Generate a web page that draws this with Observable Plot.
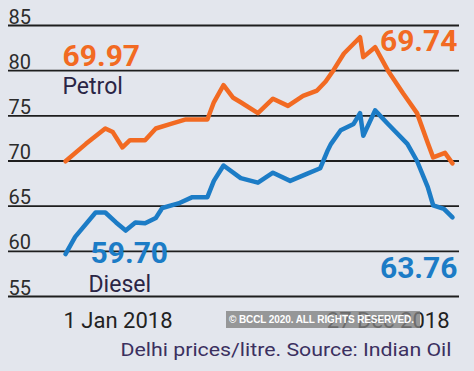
<!DOCTYPE html>
<html><head><meta charset="utf-8">
<script src="https://cdn.jsdelivr.net/npm/d3@7"></script>
<script src="https://cdn.jsdelivr.net/npm/@observablehq/plot@0.6"></script>
<style>
html,body{margin:0;padding:0;background:#e3e6ed;}
#wrap{position:relative;width:474px;height:371px;overflow:hidden;background:#e3e6ed;}
#wrap svg{display:block;}
#wm{position:absolute;left:226px;top:311px;width:194px;height:17px;background:rgba(128,128,128,0.78);color:#fff;font:bold 10px "Liberation Sans",Arial,sans-serif;letter-spacing:-0.1px;line-height:17px;padding-left:3px;box-sizing:border-box;white-space:nowrap;overflow:hidden;}
</style></head>
<body><div id="wrap"></div>
<script>
const petrolDates = ["2018-01-01","2018-01-20","2018-02-07","2018-02-14","2018-02-23","2018-03-02","2018-03-16","2018-03-26","2018-04-09","2018-04-23","2018-05-13","2018-05-19","2018-05-28","2018-06-06","2018-06-13","2018-06-29","2018-07-13","2018-07-27","2018-08-10","2018-08-23","2018-08-31","2018-09-07","2018-09-17","2018-10-02","2018-10-05","2018-10-16","2018-10-28","2018-11-11","2018-11-24","2018-12-04","2018-12-09","2018-12-20","2018-12-27"];
const petrolValues = [69.97,71.9,73.6,73.2,71.5,72.3,72.3,73.6,74.1,74.6,74.6,76.5,78.4,77.0,76.5,75.3,76.9,76.1,77.2,77.8,78.8,80.0,81.9,83.7,81.5,82.6,80.0,77.5,75.3,72.0,70.4,70.9,69.74];
const dieselDates = ["2018-01-01","2018-01-10","2018-01-29","2018-02-07","2018-02-17","2018-02-26","2018-03-07","2018-03-16","2018-03-26","2018-04-01","2018-04-16","2018-04-29","2018-05-13","2018-05-19","2018-05-28","2018-06-13","2018-06-29","2018-07-13","2018-07-29","2018-08-14","2018-08-26","2018-09-02","2018-09-05","2018-09-14","2018-09-26","2018-10-02","2018-10-05","2018-10-16","2018-10-28","2018-11-15","2018-11-24","2018-12-04","2018-12-09","2018-12-19","2018-12-27"];
const dieselValues = [59.70,61.6,64.3,64.3,63.2,62.3,63.2,63.1,63.7,64.8,65.3,66.0,66.0,67.8,69.5,68.1,67.6,68.7,67.8,68.6,69.2,71.2,71.9,73.4,74.1,75.3,72.8,75.6,74.1,71.9,70.0,67.1,65.1,64.7,63.76];
const yTicks = [55,60,65,70,75,80,85];
const seriesNames = ["Petrol","Diesel"];
const xTickLabels = ["1 Jan 2018","27 Dec 2018"];
const captionText = "Delhi prices/litre. Source: Indian Oil";
const watermarkText = "© BCCL 2020. ALL RIGHTS RESERVED.";

const parse = d3.utcParse("%Y-%m-%d");
const petrol = petrolDates.map((d,i)=>({date:parse(d), value:petrolValues[i]}));
const diesel = dieselDates.map((d,i)=>({date:parse(d), value:dieselValues[i]}));
const xStart = petrol[0].date, xEnd = petrol[petrol.length-1].date;
const ORANGE = "#f26a22", BLUE = "#1c7cc6", NAVY = "#2a2545";
const font = "Roboto, 'Noto Sans', sans-serif";

const chart = Plot.plot({
  width: 474, height: 371,
  marginLeft: 65, marginRight: 22, marginTop: 25, marginBottom: 75,
  x: {type: "utc", domain: [xStart, xEnd], axis: null},
  y: {domain: [55, 85], axis: null},
  style: {background: "transparent", fontFamily: font, overflow: "visible"},
  marks: [
    Plot.ruleY(yTicks, {y: d => d, stroke: "#1e1e1e", strokeWidth: 1.8, insetLeft: -57, insetRight: -7}),
    Plot.text(yTicks, {y: d => d, text: d => String(d), frameAnchor: "left", dx: -57, dy: -2, lineAnchor: "bottom", textAnchor: "start", fontSize: 20, fill: "#2c2c2c"}),
    Plot.line(petrol, {x: "date", y: "value", stroke: ORANGE, strokeWidth: 4.5, strokeLinejoin: "round", strokeLinecap: "round"}),
    Plot.line(diesel, {x: "date", y: "value", stroke: BLUE, strokeWidth: 4.5, strokeLinejoin: "round", strokeLinecap: "round"}),
    // value labels
    Plot.text([petrolValues[0].toFixed(2)], {text: d => d, frameAnchor: "top-left", dx: -3, dy: 40, lineAnchor: "bottom", textAnchor: "start", fontSize: 30, fontWeight: "bold", fill: ORANGE}),
    Plot.text([seriesNames[0]], {text: d => d, frameAnchor: "top-left", dx: -3, dy: 68, lineAnchor: "bottom", textAnchor: "start", fontSize: 23, fill: NAVY}),
    Plot.text([petrolValues[petrolValues.length-1].toFixed(2)], {text: d => d, frameAnchor: "top-right", dx: 5, dy: 25, lineAnchor: "bottom", textAnchor: "end", fontSize: 30, fontWeight: "bold", fill: ORANGE}),
    Plot.text([dieselValues[0].toFixed(2)], {text: d => d, frameAnchor: "top-left", dx: 25, dy: 237, lineAnchor: "bottom", textAnchor: "start", fontSize: 30, fontWeight: "bold", fill: BLUE}),
    Plot.text([seriesNames[1]], {text: d => d, frameAnchor: "top-left", dx: 23, dy: 266, lineAnchor: "bottom", textAnchor: "start", fontSize: 23, fill: NAVY}),
    Plot.text([dieselValues[dieselValues.length-1].toFixed(2)], {text: d => d, frameAnchor: "top-right", dx: 5, dy: 252, lineAnchor: "bottom", textAnchor: "end", fontSize: 30, fontWeight: "bold", fill: BLUE}),
    // x labels
    Plot.text([xStart], {x: d => d, text: () => xTickLabels[0], frameAnchor: "bottom", dx: -2, dy: 31, lineAnchor: "bottom", textAnchor: "start", fontSize: 22, fill: "#222"}),
    Plot.text([xEnd], {x: d => d, text: () => xTickLabels[1], frameAnchor: "bottom", dx: -3, dy: 31, lineAnchor: "bottom", textAnchor: "end", fontSize: 22, fill: "#222"}),
    // caption
    Plot.text([captionText], {text: d => d, frameAnchor: "bottom-right", dx: -1, dy: 59, lineAnchor: "bottom", textAnchor: "end", fontSize: 19, fill: "#3b3060"})
  ]
});
document.getElementById("wrap").appendChild(chart);
d3.select(chart).selectAll("text").filter(function(){ return this.textContent === captionText; })
  .attr("textLength", 331).attr("lengthAdjust", "spacingAndGlyphs");
const wm = document.createElement("div");
wm.id = "wm"; wm.textContent = watermarkText;
document.getElementById("wrap").appendChild(wm);
</script>
</body></html>
